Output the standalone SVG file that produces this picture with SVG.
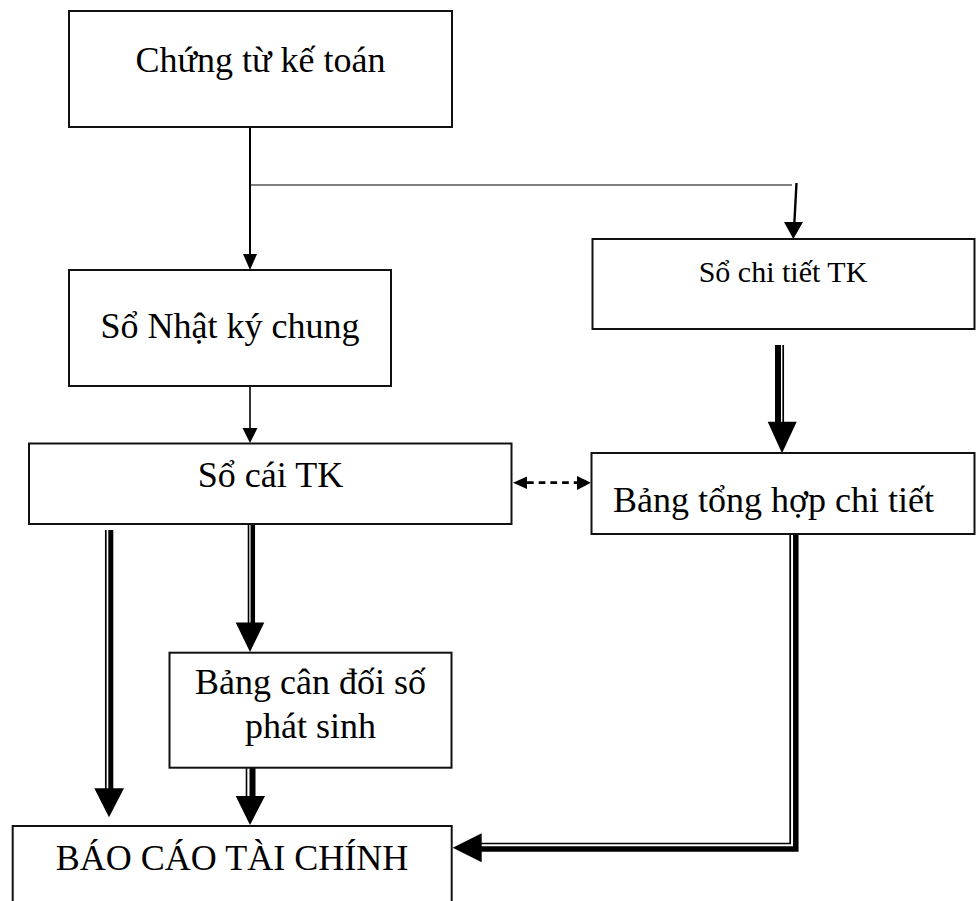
<svg xmlns="http://www.w3.org/2000/svg" width="976" height="901" viewBox="0 0 976 901">
<style>
.box{fill:#fff;stroke:#111;stroke-width:2}
.t{font-family:"Liberation Serif","Times New Roman",serif;font-size:36px;fill:#000}
.ln{stroke:#000;fill:none}
.hd{fill:#000;stroke:none}
</style>
<rect x="0" y="0" width="976" height="901" fill="#fff"/>
<g id="connectors">
  <line class="ln" x1="250" y1="127" x2="250" y2="256" stroke-width="2"/>
  <polygon class="hd" points="243,254 257,254 250,270"/>
  <line class="ln" x1="251" y1="185" x2="792" y2="185" stroke-width="1.2"/>
  <line class="ln" x1="796.5" y1="183" x2="794.3" y2="224" stroke-width="2.4"/>
  <polygon class="hd" points="784,222 803,222 793.3,239"/>
  <line class="ln" x1="250" y1="386" x2="250" y2="430" stroke-width="1.6"/>
  <polygon class="hd" points="242.5,428 257.5,428 250,443"/>
  <line class="ln" x1="527" y1="482.7" x2="577" y2="482.7" stroke-width="2.8" stroke-dasharray="6.7 5"/>
  <polygon class="hd" points="513,482.7 527,476.5 527,489"/>
  <polygon class="hd" points="591,482.7 577,476 577,490"/>
  <line class="ln" x1="778" y1="345" x2="778" y2="424" stroke-width="6"/>
  <line class="ln" x1="783.2" y1="345" x2="783.2" y2="424" stroke-width="1.7"/>
  <polygon class="hd" points="767.7,421.7 796.7,421.7 782,453.3"/>
  <line class="ln" x1="105.8" y1="530" x2="105.8" y2="790" stroke-width="1.7"/>
  <line class="ln" x1="110.8" y1="530" x2="110.8" y2="790" stroke-width="5"/>
  <polygon class="hd" points="94.3,788.3 124,788.3 109,817.3"/>
  <line class="ln" x1="248.5" y1="520" x2="248.5" y2="624" stroke-width="1.6"/>
  <line class="ln" x1="252.8" y1="520" x2="252.8" y2="624" stroke-width="4.5"/>
  <polygon class="hd" points="235.7,622.5 264.3,622.5 250,652"/>
  <line class="ln" x1="246.5" y1="768" x2="246.5" y2="798" stroke-width="1.6"/>
  <line class="ln" x1="252.5" y1="768" x2="252.5" y2="798" stroke-width="6"/>
  <polygon class="hd" points="235.7,796 265,796 250,825"/>
  <path class="ln" d="M790.2 534 V843.5 H480" stroke-width="1.7"/>
  <path class="ln" d="M795.8 534 V849 H480" stroke-width="5.5"/>
  <polygon class="hd" points="452.7,847.8 481.7,833.3 481.7,862.3"/>
</g>
<g id="chung-tu">
  <rect class="box" x="69" y="11" width="383" height="116"/>
  <text class="t" x="260.5" y="72" text-anchor="middle">Chứng từ kế toán</text>
</g>
<g id="nhat-ky-chung">
  <rect class="box" x="69" y="270" width="322" height="116"/>
  <text class="t" x="230" y="338" text-anchor="middle">Sổ Nhật ký chung</text>
</g>
<g id="so-chi-tiet">
  <rect class="box" x="592.5" y="239" width="382" height="90"/>
  <text class="t" x="783" y="281.7" text-anchor="middle" style="font-size:30px">Sổ chi tiết TK</text>
</g>
<g id="so-cai">
  <rect class="box" x="29" y="443.5" width="482.5" height="80.5"/>
  <text class="t" x="270.5" y="486.7" text-anchor="middle">Sổ cái TK</text>
</g>
<g id="bang-tong-hop">
  <rect class="box" x="591.5" y="453" width="383" height="81"/>
  <text class="t" x="613" y="511.7">Bảng tổng hợp chi tiết</text>
</g>
<g id="bang-can-doi">
  <rect class="box" x="169.5" y="652.7" width="282" height="115"/>
  <text class="t" x="310.5" y="694" text-anchor="middle">Bảng cân đối số</text>
  <text class="t" x="310.5" y="738" text-anchor="middle">phát sinh</text>
</g>
<g id="bao-cao">
  <rect class="box" x="12.7" y="826" width="439" height="100"/>
  <text class="t" x="232" y="870" text-anchor="middle">BÁO CÁO TÀI CHÍNH</text>
</g>
</svg>
